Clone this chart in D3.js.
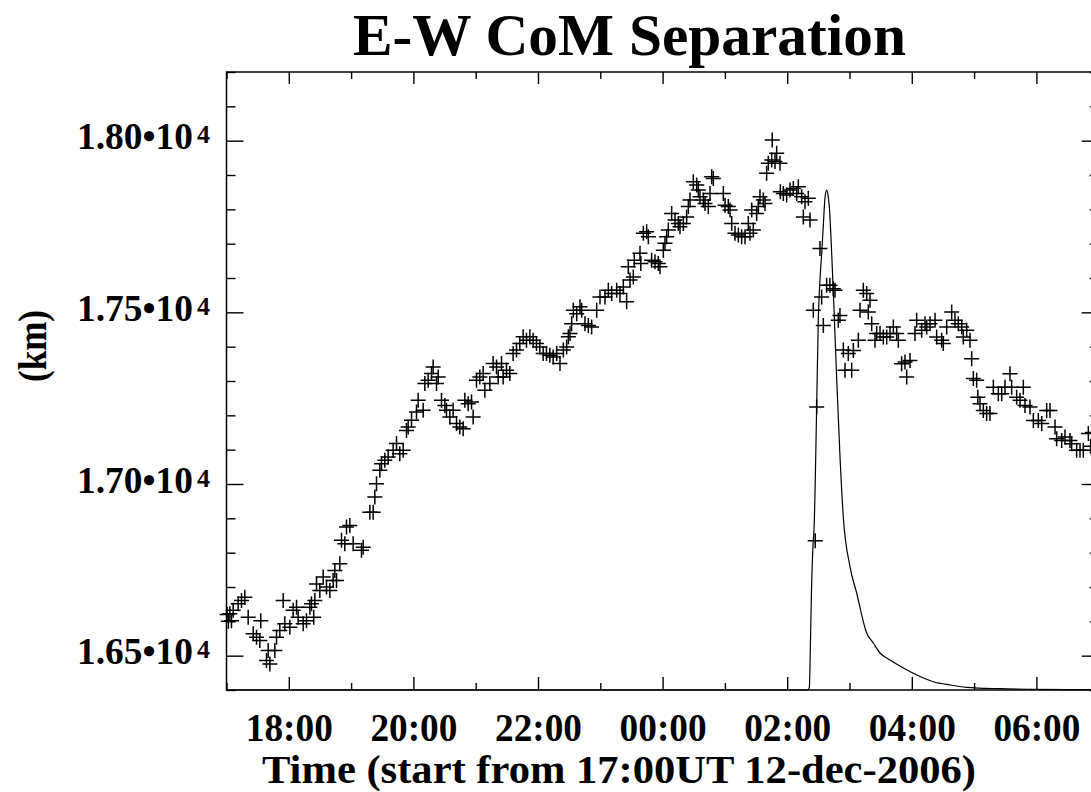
<!DOCTYPE html>
<html>
<head>
<meta charset="utf-8">
<script src="https://cdn.jsdelivr.net/npm/d3@7"></script>
<style>
  html, body { margin: 0; padding: 0; background: #fff; }
  svg { display: block; }
  text { font-family: "Liberation Serif", "Times New Roman", serif; font-weight: bold; fill: #000; }
</style>
</head>
<body>
<svg id="chart" width="1091" height="792"></svg>
<script>
// ---- data (hours since 17:00 UT 12-dec-2006, separation in km) ----
const sepTime = [
0.01,0.03,0.054,0.080,0.107,0.187,0.241,0.294,0.348,0.428,0.482,0.535,0.55,0.642,0.669,0.696,0.776,0.803,0.856,0.910,
0.936,1.017,1.070,1.124,1.150,1.231,1.284,1.338,1.364,1.40,1.418,1.445,1.498,1.552,1.605,1.659,1.712,1.739,1.766,1.819,
1.846,1.899,1.926,1.980,2.033,2.167,2.194,2.301,2.354,2.381,2.408,2.461,2.488,2.541,2.595,2.675,2.729,2.782,2.836,2.889,
2.916,2.970,3.050,3.076,3.157,3.184,3.237,3.291,3.317,3.371,3.398,3.451,3.505,3.531,3.585,3.638,3.692,3.745,3.799,3.826,
3.879,3.933,3.959,4.013,4.066,4.120,4.147,4.227,4.280,4.334,4.361,4.414,4.441,4.494,4.548,4.601,4.655,4.708,4.762,4.815,
4.869,4.922,4.976,5.029,5.083,5.136,5.190,5.243,5.300,5.353,5.407,5.460,5.487,5.514,5.540,5.567,5.621,5.674,5.701,5.754,
5.808,5.861,5.942,5.995,6.075,6.129,6.182,6.263,6.316,6.370,6.423,6.450,6.477,6.530,6.545,6.637,6.650,6.691,6.744,6.771,
6.824,6.878,6.931,6.958,7.012,7.038,7.065,7.092,7.145,7.199,7.252,7.279,7.333,7.386,7.413,7.440,7.493,7.547,7.573,7.600,
7.654,7.681,7.734,7.761,7.788,7.814,7.975,8.002,8.055,8.082,8.109,8.162,8.216,8.269,8.323,8.376,8.403,8.430,8.456,8.510,
8.537,8.563,8.617,8.644,8.670,8.697,8.751,8.760,8.804,8.831,8.884,8.890,8.938,8.991,9.045,9.098,9.152,9.179,9.232,9.259,
9.286,9.339,9.366,9.419,9.45,9.473,9.526,9.553,9.580,9.633,9.686,9.740,9.767,9.820,9.847,9.901,9.928,9.981,10.035,10.062,
10.142,10.169,10.222,10.276,10.302,10.329,10.356,10.409,10.436,10.490,10.543,10.597,10.650,10.704,10.757,10.784,10.837,10.891,10.918,10.971,
11.051,11.078,11.158,11.212,11.239,11.292,11.373,11.399,11.479,11.506,11.560,11.640,11.693,11.747,11.801,11.827,11.881,11.934,11.961,11.988,
12.041,12.060,12.095,12.148,12.202,12.255,12.309,12.389,12.443,12.496,12.576,12.603,12.683,12.737,12.790,12.817,12.897,12.951,13.031,13.085,
13.165,13.218,13.299,13.325,13.406,13.459,13.539,13.566,13.646,13.700,13.753,13.834,13.87,13.9
];
const sepKm = [
16620,16600,16622,16602,16632,16651,16661,16670,16612,16564,16554,16544,16602,16486,16515,16476,16515,16554,16573,16661,
16593,16583,16632,16641,16612,16593,16602,16641,16651,16612,16661,16709,16690,16729,16700,16690,16719,16748,16719,16768,
16836,16826,16875,16879,16826,16807,16816,16918,16918,16962,17001,17040,17059,17069,17079,17098,17118,17088,17098,17156,
17166,17186,17210,17244,17215,17293,17302,17322,17341,17293,17312,17244,17229,17215,17195,17215,17176,17166,17161,17244,
17234,17239,17195,17302,17312,17322,17273,17293,17351,17341,17312,17351,17312,17331,17322,17380,17390,17409,17429,17419,
17429,17419,17409,17399,17380,17380,17375,17370,17380,17351,17390,17399,17429,17438,17467,17506,17496,17516,17506,17467,
17462,17457,17506,17545,17545,17564,17555,17564,17555,17574,17531,17633,17594,17603,17652,17672,17642,17730,17735,17720,
17652,17647,17642,17633,17681,17701,17720,17740,17788,17769,17759,17749,17759,17778,17808,17827,17880,17871,17856,17837,
17827,17817,17808,17846,17895,17890,17846,17812,17808,17798,17759,17730,17725,17720,17720,17759,17730,17798,17740,17788,
17808,17837,17827,17817,17905,17934,17944,18002,17939,17963,17934,17851,17846,17842,17856,17861,17846,17866,17837,17778,
17822,17832,17769,17506,16835,17224,17686,17545,17462,17579,17579,17569,17564,17477,17491,17390,17331,17380,17331,17389,
17419,17506,17564,17555,17501,17535,17467,17419,17438,17438,17428,17428,17438,17457,17438,17419,17350,17355,17312,17360,
17438,17477,17448,17467,17457,17467,17477,17428,17419,17409,17457,17501,17477,17467,17457,17428,17448,17419,17365,17307,
17302,17253,17234,17214,17205,17205,17282,17263,17263,17282,17321,17282,17253,17244,17282,17229,17224,17185,17185,17176,
17214,17214,17166,17132,17127,17137,17127,17117,17098,17098,17098,17147,17110,17150
];

// normalised light curve (arbitrary units, peak = 1)
const fluxTime = [0, 9.0, 9.33, 9.355, 9.371, 9.39, 9.419, 9.43, 9.473, 9.499, 9.526, 9.554, 9.58, 9.607, 9.634, 9.655, 9.676,
  9.714, 9.755, 9.795, 9.85, 9.9, 10.008, 10.115, 10.276, 10.382, 10.49, 10.65, 10.864, 11.079, 11.345, 11.613, 11.881, 12.416, 12.946, 13.86, 14];
const fluxNorm = [0, 0, 0, 0.005, 0.08, 0.2, 0.30, 0.32, 0.567, 0.74, 0.82, 0.874, 0.93, 0.985, 1.0, 0.99, 0.967,
  0.874, 0.75, 0.62, 0.46, 0.347, 0.247, 0.194, 0.114, 0.094, 0.074, 0.06, 0.044, 0.03, 0.0166, 0.01, 0.0054, 0.0026, 0.0014, 0.0006, 0.0005];

const xMajorTicks = [1, 3, 5, 7, 9, 11, 13];
const xTickLabels = ["18:00", "20:00", "22:00", "00:00", "02:00", "04:00", "06:00"];
const xMinorTicks = [0, 2, 4, 6, 8, 10, 12, 14];
const yMajorTicks = [16500, 17000, 17500, 18000];
const yTickLabels = ["1.65\u202210", "1.70\u202210", "1.75\u202210", "1.80\u202210"];
const yTickExp = ["4", "4", "4", "4"];
const yMinorTicks = d3.range(16400, 18201, 100).filter(v => v % 500 !== 0);

const titleText = "E-W CoM Separation";
const xTitle = "Time (start from 17:00UT 12-dec-2006)";
const yTitle = "(km)";

// ---- layout ----
const L = 226.5, R = 1098.7, T = 72, B = 690;
const svg = d3.select("#chart");
const x = d3.scaleLinear().domain([0, 14]).range([L, R]);
const y = d3.scaleLinear().domain([16400, 18200]).range([B, T]);
const yFlux = d3.scaleLinear().domain([0, 1]).range([y(16400), y(17856)]);

const axisStyle = g => {
  g.select(".domain").remove();
  g.selectAll(".tick line").attr("stroke", "#000").attr("stroke-width", 1.4);
};

// bottom / top axes
svg.append("g").attr("transform", `translate(0,${B})`)
  .call(d3.axisBottom(x).tickValues(xMajorTicks).tickSize(-13).tickPadding(23)
    .tickFormat((d, i) => xTickLabels[i]))
  .call(axisStyle)
  .call(g => g.selectAll("text").attr("font-size", 39).attr("font-family", null).attr("fill", "#000")
    .attr("textLength", 87).attr("lengthAdjust", "spacingAndGlyphs"));
svg.append("g").attr("transform", `translate(0,${B})`)
  .call(d3.axisBottom(x).tickValues(xMinorTicks).tickSize(-7).tickFormat(""))
  .call(axisStyle);
svg.append("g").attr("transform", `translate(0,${T})`)
  .call(d3.axisTop(x).tickValues(xMajorTicks).tickSize(-12).tickFormat(""))
  .call(axisStyle);
svg.append("g").attr("transform", `translate(0,${T})`)
  .call(d3.axisTop(x).tickValues(xMinorTicks).tickSize(-7).tickFormat(""))
  .call(axisStyle);

// left / right axes
svg.append("g").attr("transform", `translate(${L},0)`)
  .call(d3.axisLeft(y).tickValues(yMajorTicks).tickSize(-17).tickFormat(""))
  .call(axisStyle);
svg.append("g").attr("transform", `translate(${L},0)`)
  .call(d3.axisLeft(y).tickValues(yMinorTicks).tickSize(-9).tickFormat(""))
  .call(axisStyle);
svg.append("g").attr("transform", `translate(${R},0)`)
  .call(d3.axisRight(y).tickValues(yMajorTicks).tickSize(-17).tickFormat(""))
  .call(axisStyle);
svg.append("g").attr("transform", `translate(${R},0)`)
  .call(d3.axisRight(y).tickValues(yMinorTicks).tickSize(-9).tickFormat(""))
  .call(axisStyle);

// frame
svg.append("rect").attr("x", L).attr("y", T).attr("width", R - L).attr("height", B - T)
  .attr("fill", "none").attr("stroke", "#000").attr("stroke-width", 1.5);

// y tick labels with exponent
const yl = svg.append("g");
yMajorTicks.forEach((v, i) => {
  yl.append("text").attr("x", 193).attr("y", y(v) + 8.5)
    .attr("text-anchor", "end").attr("font-size", 38)
    .attr("textLength", 116).attr("lengthAdjust", "spacingAndGlyphs")
    .text(yTickLabels[i]);
  yl.append("text").attr("x", 197).attr("y", y(v) + 2.5)
    .attr("font-size", 26).text(yTickExp[i]);
});

// light curve
svg.append("path")
  .datum(fluxTime.map((t, i) => [t, fluxNorm[i]]))
  .attr("fill", "none").attr("stroke", "#000").attr("stroke-width", 1.2)
  .attr("d", d3.line().x(d => x(d[0])).y(d => yFlux(d[1])).curve(d3.curveMonotoneX));

// separation crosses
svg.append("g").selectAll("path.pt")
  .data(sepTime.map((t, i) => [t, sepKm[i]]))
  .join("path").attr("class", "pt")
  .attr("transform", d => `translate(${x(d[0])},${y(d[1])})`)
  .attr("d", "M-7.5,0H7.5M0,-7.5V7.5")
  .attr("stroke", "#000").attr("stroke-width", 1.5).attr("fill", "none");

// titles
svg.append("text").attr("x", 629.5).attr("y", 55).attr("text-anchor", "middle")
  .attr("font-size", 59).attr("textLength", 553).attr("lengthAdjust", "spacingAndGlyphs").text(titleText);
svg.append("text").attr("x", 619).attr("y", 783).attr("text-anchor", "middle")
  .attr("font-size", 40).attr("textLength", 714).attr("lengthAdjust", "spacingAndGlyphs").text(xTitle);
svg.append("text").attr("transform", "translate(46,346) rotate(-90)").attr("text-anchor", "middle")
  .attr("font-size", 39).attr("textLength", 72).attr("lengthAdjust", "spacingAndGlyphs").text(yTitle);
</script>
</body>
</html>
